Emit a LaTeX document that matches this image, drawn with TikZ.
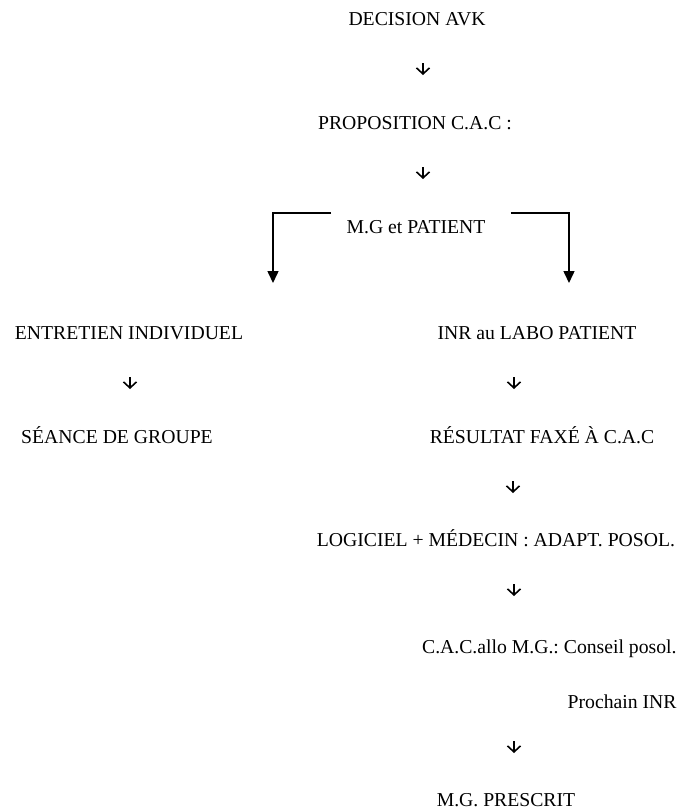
\documentclass[tikz,border=0pt]{standalone}
\usepackage{fontspec}
\setmainfont{Liberation Serif}
\frenchspacing
\usetikzlibrary{arrows.meta,calc}
\begin{document}
\begin{tikzpicture}[x=0.5pt,y=-0.5pt,
	txt/.style={inner sep=0pt,anchor=base,font=\fontsize{9.85pt}{12pt}\selectfont},
	dn/.style={line width=0.8pt,-{Straight Barb[width=6.5pt,length=3pt]}},
	brk/.style={line width=0.75pt,-{Triangle[width=5.5pt,length=6pt]}}]
	\useasboundingbox (0,0) rectangle (687,810);
	\node (dec) [txt] at (417,25.5) {DECISION AVK};
	\node (prop) [txt] at (415,129.5) {PROPOSITION C.A.C :};
	\node (mg) [txt] at (416,233.5) {M.G et PATIENT};

	\node (ent) [txt] at (129,339.5) {ENTRETIEN INDIVIDUEL};
	\node (sea) [txt] at (117,443.5) {SÉANCE DE GROUPE};

	\node (inr) [txt] at (537,339.5) {INR au LABO PATIENT};
	\node (res) [txt] at (542,443.5) {RÉSULTAT FAXÉ À C.A.C};
	\node (log) [txt] at (496,546.5) {LOGICIEL + MÉDECIN : ADAPT. POSOL.};
	\node (cac) [txt,anchor=base east] at (677,653.5) {C.A.C.allo M.G.: Conseil posol.};
	\node (pro) [txt,anchor=base east] at (677,708.5) {Prochain INR};
	\node (pre) [txt] at (506,806) {M.G. PRESCRIT};

	\coordinate (d1) at (423,63);
	\coordinate (d2) at (423,167);
	\coordinate (d3) at (130,377);
	\coordinate (d4) at (514,377);
	\coordinate (d5) at (513,481);
	\coordinate (d6) at (514,584);
	\coordinate (d7) at (514,741);
	\draw[dn] (d1) -- ++(0,12);
	\draw[dn] (d2) -- ++(0,12);
	\draw[dn] (d3) -- ++(0,12);
	\draw[dn] (d4) -- ++(0,12);
	\draw[dn] (d5) -- ++(0,12);
	\draw[dn] (d6) -- ++(0,12);
	\draw[dn] (d7) -- ++(0,12);

	\coordinate (lend) at (273,283);
	\coordinate (rend) at (569,283);
	\draw[brk] ($(mg.north west)+(-15,-7)$) -| (lend);
	\draw[brk] ($(mg.north east)+(25,-7)$) -| (rend);
\end{tikzpicture}
\end{document}
